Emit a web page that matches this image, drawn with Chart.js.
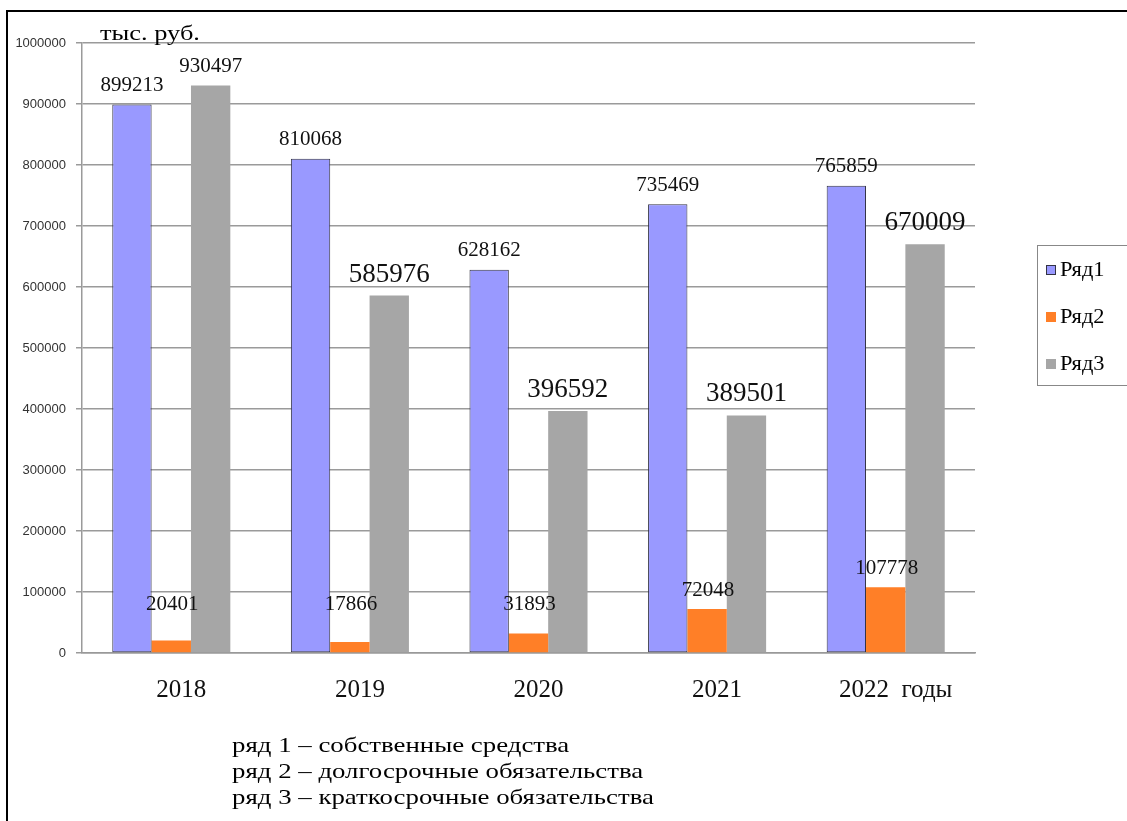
<!DOCTYPE html>
<html lang="ru">
<head>
<meta charset="utf-8">
<script src="https://cdn.jsdelivr.net/npm/chart.js@4/dist/chart.umd.min.js"></script>
<style>
  body { margin: 0; background: #fff; }
  #wrap { position: relative; width: 1127px; height: 821px; overflow: hidden; }
  #frame { position: absolute; left: 6px; top: 10px; width: 1200px; height: 900px;
           border-left: 2px solid #000; border-top: 2px solid #000; }
  canvas { position: absolute; left: 0; top: 0; }
  .serif { font-family: "Liberation Serif", "Times New Roman", serif; color: #000; }
  #unit { position: absolute; left: 100px; top: 20px; font-size: 22px;
          transform: scaleX(1.2); transform-origin: left top; }
  #legend { position: absolute; left: 1037px; top: 245px; width: 120px; height: 139px;
            border: 1px solid #888; }
  #legend div { position: absolute; left: 8px; font-size: 20px; line-height: 20px; white-space: nowrap; }
  #legend span { display: inline-block; width: 10px; height: 10px; margin-right: 4px; vertical-align: 1px; box-sizing: border-box; }
  #legend em { font-style: normal; display: inline-block; transform: scaleX(1.12); transform-origin: left center; }
  #note { position: absolute; left: 232px; top: 732px; font-size: 22px; line-height: 26px;
          white-space: nowrap; transform: scaleX(1.22); transform-origin: left top; }
</style>
</head>
<body>
<div id="wrap">
  <div id="frame"></div>
  <canvas id="chart" width="1127" height="821"></canvas>
  <div id="unit" class="serif">тыс. руб.</div>
  <div id="legend" class="serif"></div>
  <div id="note" class="serif">
    ряд 1 – собственные средства<br>
    ряд 2 – долгосрочные обязательства<br>
    ряд 3 – краткосрочные обязательства
  </div>
</div>
<script>
// data
const years = ["2018", "2019", "2020", "2021", "2022  годы"];
const seriesNames = ["Ряд1", "Ряд2", "Ряд3"];
const row1 = [899213, 810068, 628162, 735469, 765859];
const row2 = [20401, 17866, 31893, 72048, 107778];
const row3 = [930497, 585976, 396592, 389501, 670009];
const yTicks = [0, 100000, 200000, 300000, 400000, 500000, 600000, 700000, 800000, 900000, 1000000];

const fills = ["#9999ff", "#ff7f27", "#a6a6a6"];
const borders = ["#333344", "#ff7f27", "#a6a6a6"];
// label font sizes per series / point
const labelSizes = [
  [21, 21, 21, 21, 21],
  [21, 21, 21, 21, 21],
  [21, 27, 27, 27, 27]
];

// legend (html, real text)
const legend = document.getElementById("legend");
seriesNames.forEach((name, i) => {
  const d = document.createElement("div");
  d.style.top = (13 + i * 47) + "px";
  const sw = document.createElement("span");
  sw.style.background = fills[i];
  if (i === 0) sw.style.border = "1px solid " + borders[0];
  const t = document.createElement("em");
  t.textContent = name;
  d.appendChild(sw);
  d.appendChild(t);
  legend.appendChild(d);
});

// value labels over bars
const barLabels = {
  id: "barLabels",
  afterDatasetsDraw(chart) {
    const ctx = chart.ctx;
    const yScale = chart.scales.y;
    ctx.save();
    ctx.fillStyle = "#111";
    ctx.textAlign = "center";
    ctx.textBaseline = "middle";
    chart.data.datasets.forEach((ds, i) => {
      chart.getDatasetMeta(i).data.forEach((bar, j) => {
        const size = labelSizes[i][j];
        ctx.font = size + 'px "Liberation Serif", serif';
        let y = bar.y - (size > 21 ? 21 : 19);
        if (i === 1) y = Math.min(y, yScale.getPixelForValue(80000));
        ctx.fillText(String(ds.data[j]), bar.x + (i === 1 ? 1 : 0), y);
      });
    });
    ctx.restore();
  }
};

const sets = [row1, row2, row3].map((vals, i) => ({
  label: seriesNames[i],
  data: vals,
  backgroundColor: fills[i],
  borderColor: borders[i],
  borderWidth: i === 0 ? 1 : 0,
  borderSkipped: false,
  categoryPercentage: 0.661,
  barPercentage: 1
}));

new Chart(document.getElementById("chart"), {
  type: "bar",
  data: { labels: years, datasets: sets },
  options: {
    responsive: false,
    animation: false,
    layout: { padding: { left: 0, right: 152, top: 43, bottom: 0 } },
    plugins: { legend: { display: false }, tooltip: { enabled: false } },
    scales: {
      x: {
        grid: { display: false, drawTicks: false },
        border: { display: true, color: "#999", width: 1.5 },
        ticks: {
          color: "#111",
          padding: 22,
          labelOffset: 10,
          font: { family: '"Liberation Serif", serif', size: 25 }
        },
        afterFit(scale) { scale.height = 168; }
      },
      y: {
        min: 0,
        max: 1000000,
        afterBuildTicks(scale) { scale.ticks = yTicks.map(v => ({ value: v })); },
        grid: { color: "#9a9a9a", lineWidth: 1.5, tickLength: 6 },
        border: { display: true, color: "#9a9a9a", width: 1.5 },
        ticks: {
          color: "#333",
          padding: 10,
          font: { family: '"Liberation Sans", Arial, sans-serif', size: 13 },
          callback: v => String(v)
        },
        afterFit(scale) { scale.width = 82; }
      }
    }
  },
  plugins: [barLabels]
});
</script>
</body>
</html>
